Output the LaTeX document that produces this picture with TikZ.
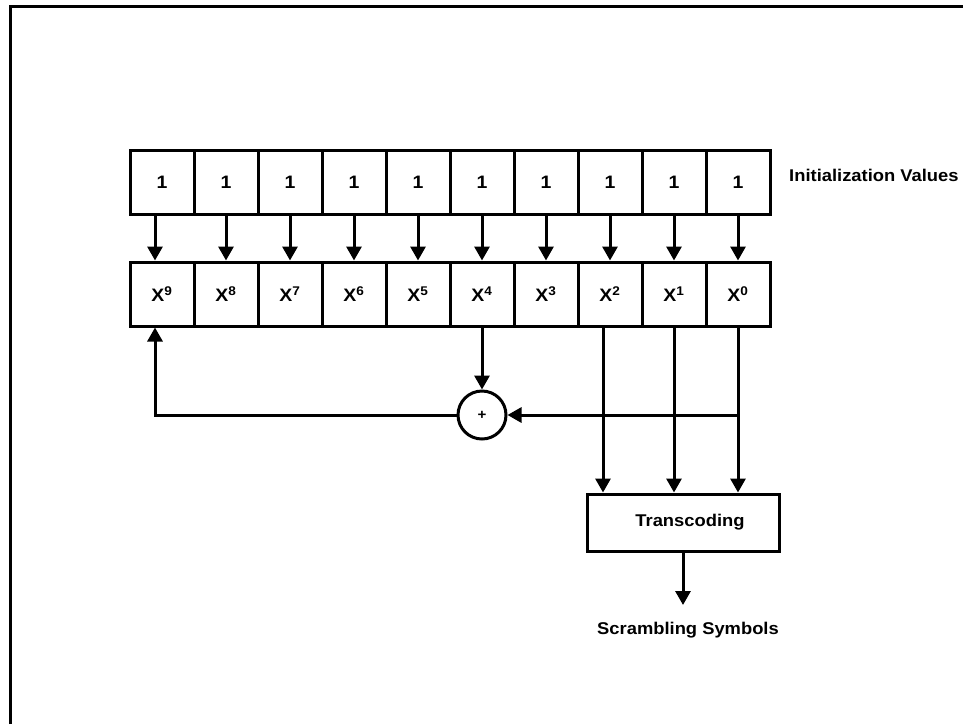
\documentclass[tikz,border=0pt]{standalone}
\usepackage{fontspec}
\newfontfamily\lbl{Liberation Sans}[FakeStretch=1.08]
\usetikzlibrary{arrows.meta}
\tikzset{
  cell/.style={draw, line width=3pt, minimum width=64pt, minimum height=64pt, inner sep=0pt, font=\lbl\bfseries\fontsize{18}{20}\selectfont},
  conn/.style={line width=3pt},
  arr/.style={conn, -{Triangle[length=14pt,width=15pt]}},
  lab/.style={font=\lbl\bfseries\fontsize{17}{19}\selectfont, inner sep=0pt},
}
\begin{document}
\begin{tikzpicture}[x=1pt,y=-1pt]
\useasboundingbox (0,0) rectangle (963,724);
\draw[line width=3pt] (10,724) -- (10,6) -- (963,6);
% top row (initial values) and register row
\foreach \i in {0,...,9} {
  \pgfmathtruncatemacro{\k}{9-\i}
  \node[cell] (t\k) at ({162+64*\i},182) {1};
  \node[cell] (b\k) at ({162+64*\i},294) {X\textsuperscript{\k}};
}
\foreach \k in {8,...,0} {
  \draw[arr] (t\k.south) -- (b\k.north);
}
\draw[arr] ([xshift=-7pt]t9.south) -- ([xshift=-7pt]b9.north);
% adder
\node[draw, circle, line width=3pt, minimum size=48pt, inner sep=0pt, font=\lbl\bfseries\fontsize{14}{16}\selectfont] (add) at (482,415) {+};
\draw[arr] (b4.south) -- (add.north);
\draw[arr] (add.west) -| ([xshift=-7pt]b9.south);
% transcoding
\node[draw, line width=3pt, minimum width=192pt, minimum height=57pt, inner sep=0pt, font=\lbl\bfseries\fontsize{17}{19}\selectfont] (tr) at (683,522.5) {\hspace{14pt}Transcoding};
\draw[arr] (b0.south) -- (b0.south |- tr.north);
\draw[arr] (b0.south |- add) -- (add.east);
\draw[arr] (b1.south) -- (b1.south |- tr.north);
\draw[arr] ([xshift=-7pt]b2.south) -- ([xshift=-7pt]b2.south |- tr.north);
\coordinate (out) at (683,605);
\draw[arr] (tr.south) -- (out);
\node[lab] (scr) at (688,630) {Scrambling Symbols};
\node[lab, anchor=west] (init) at (789,175) {Initialization Values};
\end{tikzpicture}
\end{document}
